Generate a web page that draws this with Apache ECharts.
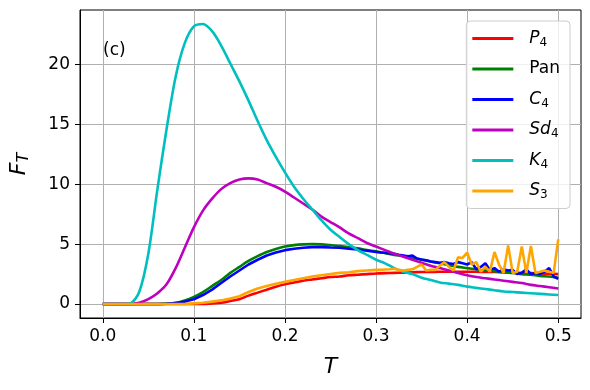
<!DOCTYPE html>
<html>
<head>
<meta charset="utf-8">
<script src="https://cdn.jsdelivr.net/npm/echarts@6/dist/echarts.min.js"></script>
<style>
  html, body { margin: 0; padding: 0; background: #fff; }
  #chart { width: 590px; height: 390px; }
</style>
</head>
<body>
<div id="chart"></div>
<script>
// T grid 0.00 .. 0.50, step 0.01
const tMain = [];
for (let i = 0; i <= 50; i++) tMain.push(+(i * 0.01).toFixed(2));
// finer grid for the noisy tails, 0.305 .. 0.500
const tTail = [];
for (let i = 61; i <= 100; i++) tTail.push(+(i * 0.005).toFixed(3));

const xTicks = [0, 0.1, 0.2, 0.3, 0.4, 0.5];
const yTicks = [0, 5, 10, 15, 20];

const p4 = [0, 0, 0, 0, 0, 0, 0, 0, 0, 0, 0, 0, 0.05, 0.1, 0.25, 0.4, 0.7, 0.95, 1.2, 1.45, 1.65,
  1.8, 1.95, 2.05, 2.15, 2.25, 2.3, 2.4, 2.45, 2.5, 2.55, 2.58, 2.6, 2.62, 2.65, 2.67, 2.68, 2.7, 2.7, 2.7, 2.7,
  2.7, 2.68, 2.67, 2.65, 2.63, 2.6, 2.58, 2.55, 2.53, 2.5];

const pan = [0, 0, 0, 0, 0, 0, 0, 0.03, 0.1, 0.3, 0.6, 1.0, 1.5, 2.0, 2.6, 3.1, 3.6, 4.0, 4.35, 4.6, 4.8,
  4.92, 4.98, 5.0, 4.98, 4.92, 4.85, 4.75, 4.65, 4.5, 4.4, 4.25, 4.1, 4.0, 3.85, 3.7, 3.55, 3.4, 3.25, 3.1, 3.0,
  2.9, 2.8, 2.75, 2.65, 2.6, 2.5, 2.45, 2.35, 2.3, 2.2];

// C4: smooth part up to T = 0.30, then the noisy tail
const c4Main = [0, 0, 0, 0, 0, 0, 0, 0.02, 0.07, 0.2, 0.4, 0.75, 1.2, 1.75, 2.3, 2.8, 3.3, 3.7, 4.05, 4.3, 4.5,
  4.62, 4.7, 4.75, 4.75, 4.72, 4.7, 4.62, 4.55, 4.45, 4.35];
const c4Tail = [4.3, 4.28, 4.25, 4.2, 4.12, 4.05, 3.98, 4.05, 3.8, 3.72, 3.65, 3.55, 3.5, 3.45, 3.5, 3.4, 3.35, 3.5, 3.4, 3.3,
  3.5, 2.9, 3.1, 3.4, 2.85, 3.0, 2.7, 2.9, 2.8, 2.85, 2.5, 2.6, 2.9, 2.5, 2.6, 2.5, 2.7, 3.0, 2.3, 2.1];

const sd4 = [0, 0, 0, 0, 0.1, 0.4, 0.9, 1.65, 3.0, 4.7, 6.4, 7.8, 8.8, 9.6, 10.1, 10.4, 10.5, 10.4, 10.1, 9.8, 9.4,
  8.9, 8.4, 7.9, 7.3, 6.85, 6.4, 5.9, 5.5, 5.1, 4.8, 4.5, 4.2, 3.95, 3.7, 3.45, 3.2, 3.0, 2.8, 2.6, 2.4,
  2.25, 2.15, 2.05, 1.95, 1.85, 1.75, 1.6, 1.5, 1.4, 1.3];

const k4 = [0, 0, 0, 0.05, 1.0, 4.2, 9.6, 14.6, 19.0, 21.8, 23.2, 23.4, 22.8, 21.6, 20.1, 18.6, 17.0, 15.3, 13.7, 12.3, 11.0,
  9.8, 8.8, 7.9, 7.0, 6.2, 5.6, 5.0, 4.5, 4.1, 3.7, 3.4, 3.0, 2.7, 2.5, 2.2, 2.0, 1.8, 1.7, 1.6, 1.45,
  1.35, 1.25, 1.15, 1.05, 1.0, 0.95, 0.9, 0.85, 0.8, 0.75];

const s3Main = [0, 0, 0, 0, 0, 0, 0, 0, 0, 0, 0.05, 0.1, 0.2, 0.3, 0.45, 0.65, 1.0, 1.3, 1.5, 1.7, 1.85,
  2.0, 2.15, 2.3, 2.4, 2.5, 2.6, 2.65, 2.75, 2.8, 2.85];
const s3Tail = [2.85, 2.88, 2.9, 2.95, 2.85, 2.8, 2.85, 2.9, 3.1, 3.3, 2.8, 2.85, 2.85, 3.2, 3.5, 3.1, 2.8, 3.9, 3.85, 4.3,
  3.3, 3.5, 2.7, 3.1, 2.7, 4.35, 3.3, 2.6, 4.9, 2.6, 2.7, 4.8, 2.6, 4.85, 2.6, 2.7, 2.8, 2.7, 2.6, 5.4];

const pairs = (ts, vs) => vs.map((v, i) => [ts[i], v]);
const withTail = (main, tail) => pairs(tMain, main).concat(pairs(tTail, tail));

const labelRich = {
  i: { fontStyle: 'italic', fontSize: 17, fontFamily: 'DejaVu Sans', color: '#000' },
  n: { fontSize: 17, fontFamily: 'DejaVu Sans', color: '#000' },
  s: { fontSize: 12, fontFamily: 'DejaVu Sans', color: '#000', padding: [8, 0, 0, 0] },
};
const legendText = {
  P4: '{i|P}{s|4}',
  Pan: '{n|Pan}',
  C4: '{i|C}{s|4}',
  Sd4: '{i|Sd}{s|4}',
  K4: '{i|K}{s|4}',
  S3: '{i|S}{s|3}',
};

const line = (name, data, color, smooth) => ({
  name, type: 'line', data, showSymbol: false,
  smooth: smooth ? 0.3 : false,
  lineStyle: { color, width: 2.6 }, itemStyle: { color },
});

const chart = echarts.init(document.getElementById('chart'), null, { renderer: 'canvas' });
chart.setOption({
  animation: false,
  textStyle: { fontFamily: 'DejaVu Sans' },
  grid: {
    left: 80, right: 9, top: 10, bottom: 72,
    show: true, borderColor: '#000', borderWidth: 1, backgroundColor: '#fff',
  },
  xAxis: {
    type: 'value', min: -0.025, max: 0.525,
    name: 'T', nameLocation: 'middle', nameGap: 38,
    nameTextStyle: { fontSize: 22, fontStyle: 'italic', color: '#000' },
    axisLine: { show: true, onZero: false, lineStyle: { color: '#000', width: 1 } },
    axisTick: { show: true, customValues: xTicks, length: 5, lineStyle: { color: '#000' } },
    axisLabel: { customValues: xTicks, formatter: v => v.toFixed(1), fontSize: 17, color: '#000', margin: 10 },
    splitLine: { show: true, lineStyle: { color: '#b0b0b0', width: 1 } },
  },
  yAxis: {
    type: 'value', min: -1.17, max: 24.57,
    name: '{i|F}{t|T}', nameLocation: 'middle', nameGap: 48, nameRotate: 90,
    nameTextStyle: {
      rich: {
        i: { fontSize: 22, fontStyle: 'italic', color: '#000', fontFamily: 'DejaVu Sans' },
        t: { fontSize: 16, fontStyle: 'italic', color: '#000', fontFamily: 'DejaVu Sans', padding: [10, 0, 0, 0] },
      },
    },
    axisLine: { show: true, onZero: false, lineStyle: { color: '#000', width: 1 } },
    axisTick: { show: true, customValues: yTicks, length: 5, lineStyle: { color: '#000' } },
    axisLabel: { customValues: yTicks, fontSize: 17, color: '#000', margin: 10 },
    splitLine: { show: true, lineStyle: { color: '#b0b0b0', width: 1 } },
  },
  legend: {
    orient: 'vertical', right: 20, top: 21,
    icon: 'rect', itemWidth: 41, itemHeight: 3, itemGap: 9.5,
    padding: [7, 10, 7, 6],
    backgroundColor: 'rgba(255,255,255,0.8)', borderColor: '#cccccc', borderWidth: 1, borderRadius: 4,
    formatter: name => legendText[name],
    textStyle: { rich: labelRich, padding: [0, 0, 0, 11], lineHeight: 21 },
  },
  graphic: [{
    type: 'text', left: 103, top: 42,
    style: { text: '(c)', fontSize: 17, fontFamily: 'DejaVu Sans', fill: '#000' },
  }],
  series: [
    line('P4', pairs(tMain, p4), '#ff0000', true),
    line('Pan', pairs(tMain, pan), '#008000', true),
    line('C4', withTail(c4Main, c4Tail), '#0000ff', false),
    line('Sd4', pairs(tMain, sd4), '#bf00bf', true),
    line('K4', pairs(tMain, k4), '#00bfbf', true),
    line('S3', withTail(s3Main, s3Tail), '#ffa500', false),
  ],
});
</script>
</body>
</html>
